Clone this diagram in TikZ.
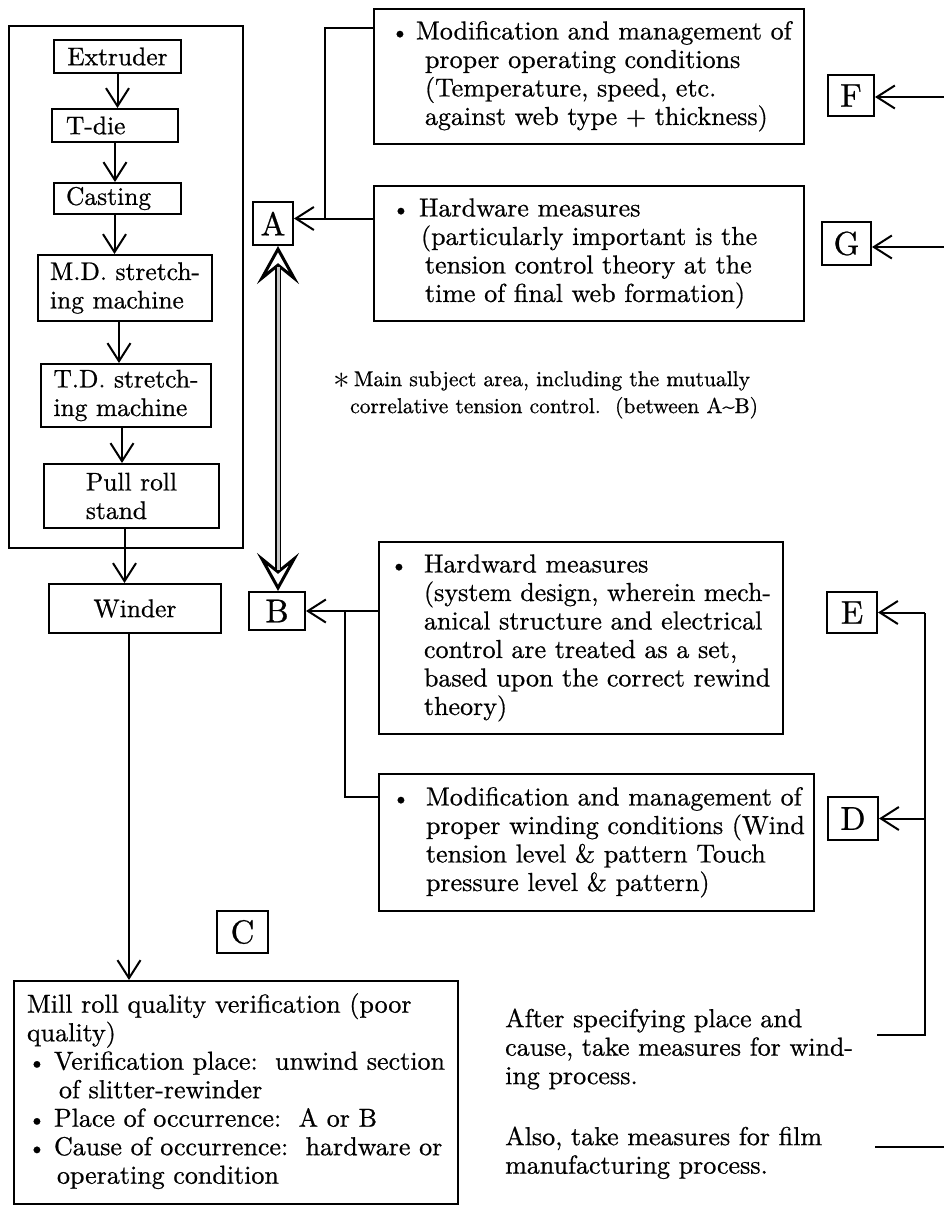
\documentclass[tikz,border=0pt]{standalone}
\usepackage{fontspec}
\setmainfont{lmroman10-regular.otf}[FakeBold=0.7]
\usetikzlibrary{arrows.meta,calc}
\newcommand{\bul}{{\fontsize{23}{23}\selectfont\textbullet}}
\begin{document}
\begin{tikzpicture}[x=1pt,y=-1pt,
  every node/.style={font=\fontsize{26}{28.5}\selectfont, inner sep=0pt},
  frame/.style={draw, line width=2pt},
  proc/.style={frame, anchor=north west, align=left, font=\fontsize{25.5}{28.5}\selectfont},
  tbox/.style={frame, anchor=north west, align=left},
  letter/.style={frame, font=\fontsize{33}{33}\selectfont},
  conn/.style={line width=2pt},
  arr/.style={conn, -{Straight Barb[length=18pt,width=23pt]}},
  free/.style={anchor=north west, align=left},
  abhead/.style={line width=3pt, {Stealth[open,fill=white,length=38pt,width=42pt,inset=17pt]}-{Stealth[open,fill=white,length=38pt,width=42pt,inset=17pt]}},
  abstem/.style={line width=1.6pt, double=gray!45, double distance=3pt},
]
\useasboundingbox (0,0) rectangle (944,1205);

% process group
\node[frame, anchor=north west, minimum width=234, minimum height=522] (group) at (8,25) {};
\node[proc, minimum width=127, minimum height=33] (ext) at (53,39) {Extruder};
\node[proc, text width=126, minimum height=33] (tdie) at (51,108) {\hspace*{14pt}T-die};
\node[proc, text width=127, minimum height=31] (cast) at (53,182) {\hspace*{12pt}Casting};
\node[proc, minimum width=174, minimum height=66] (md) at (37,254) {M.D. stretch-\\ing machine};
\node[proc, minimum width=170, minimum height=63] (td) at (40,363) {T.D. stretch-\\ing machine};
\node[proc, minimum width=175, minimum height=64] (pull) at (43,463) {Pull roll\\stand};
\node[proc, minimum width=172, minimum height=49] (win) at (48,583) {Winder};

% letters
\node[letter, minimum width=40, minimum height=43] (A) at (273,223.5) {A};
\node[letter, minimum width=56, minimum height=38] (B) at (277,611) {B};
\node[letter, minimum width=51, minimum height=42] (C) at (242.5,932) {C};
\node[letter, minimum width=50, minimum height=43] (D) at (853,818.5) {D};
\node[letter, minimum width=50, minimum height=41] (E) at (852,612.5) {E};
\node[letter, minimum width=46, minimum height=41] (F) at (851,95.5) {F};
\node[letter, minimum width=49, minimum height=43] (G) at (846.5,243.5) {G};

% text boxes
\node[tbox, text width=430, minimum height=135] (m1) at (373,8)
 {\hspace*{17pt}\makebox[25pt][l]{\bul}\strut Modification and management of\\
  \hspace*{51pt}proper operating conditions\\
  \hspace*{51pt}(Temperature, speed, etc.\\
  \hspace*{51pt}against web type + thickness)\strut};
\node[tbox, text width=430, minimum height=135] (h1) at (373,185)
 {\hspace*{18pt}\makebox[27pt][l]{\bul}\strut Hardware measures\\
  \hspace*{47pt}(particularly important is the\\
  \hspace*{51pt}tension control theory at the\\
  \hspace*{51pt}time of final web formation)\strut};
\node[tbox, text width=404, minimum height=192] (hw) at (378,541)
 {\hspace*{11pt}\makebox[34pt][l]{\bul}\strut Hardward measures\\
  \hspace*{45pt}(system design, wherein mech-\\
  \hspace*{45pt}anical structure and electrical\\
  \hspace*{45pt}control are treated as a set,\\
  \hspace*{45pt}based upon the correct rewind\\
  \hspace*{45pt}theory)\strut};
\node[tbox, text width=435, minimum height=137] (mw) at (378,773)
 {\hspace*{13pt}\makebox[34pt][l]{\bul}\strut Modification and management of\\
  \hspace*{47pt}proper winding conditions (Wind\\
  \hspace*{47pt}tension level \& pattern Touch\\
  \hspace*{47pt}pressure level \& pattern)\strut};
\node[tbox, text width=444, minimum height=223] (mill) at (13,980)
 {\hspace*{13pt}\strut Mill roll quality verification (poor\\
  \hspace*{13pt}quality)\\
  \hspace*{14pt}\makebox[26pt][l]{\bul}Verification place:\ \ unwind section\\
  \hspace*{45pt}of slitter-rewinder\\
  \hspace*{14pt}\makebox[26pt][l]{\bul}Place of occurrence:\ \ A or B\\
  \hspace*{14pt}\makebox[26pt][l]{\bul}Cause of occurrence:\ \ hardware or\\
  \hspace*{43pt}operating condition\strut};

% free texts
\node[free, font=\fontsize{21.5}{27}\selectfont] (note) at (333,367)
 {\strut\raisebox{-2pt}{\scalebox{1.6}{$\ast$}}\hspace{4pt}Main subject area, including the mutually\\
  \hspace*{17pt}correlative tension control.\ \ (between A\textasciitilde B)};
\node[free] (after) at (505,1007)
 {\strut After specifying place and\\cause, take measures for wind-\\ing process.};
\node[free] (also) at (505,1125)
 {\strut Also, take measures for film\\manufacturing process.};

% process arrows
\coordinate (p1) at (ext.south);
\coordinate (p2) at (tdie.south);
\coordinate (p3) at ([xshift=-3pt]cast.south);
\coordinate (p4) at ([xshift=-6pt]md.south);
\coordinate (p5) at ([xshift=-4pt]td.south);
\coordinate (p6) at ([xshift=-7pt]pull.south);
\coordinate (p7) at ([xshift=-6pt]win.south);
\draw[arr] (p1) -- (p1 |- tdie.north);
\draw[arr] (p2) -- (p2 |- cast.north);
\draw[arr] (p3) -- (p3 |- md.north);
\draw[arr] (p4) -- (p4 |- td.north);
\draw[arr] (p5) -- (p5 |- pull.north);
\draw[arr] (p6) -- (p6 |- win.north);
\draw[arr] (p7) -- (p7 |- mill.north);

% A-B double arrow
\coordinate (ab) at (278,0);
\draw[abhead] (A.south -| ab) -- (B.north -| ab);
\draw[abstem, shorten <=21pt, shorten >=21pt] (A.south -| ab) -- (B.north -| ab);

% connectors to A
\coordinate (jA) at (325,218.5);
\draw[conn] ([yshift=-20pt]m1.north west) -| (jA);
\draw[arr] (h1.west |- jA) -- ([yshift=5pt]A.east);

% connectors to B
\coordinate (jB) at (345,611);
\draw[arr] (hw.west |- B.east) -- (B.east);
\draw[conn] ([yshift=-24pt]mw.north west) -| (jB);

% right side
\coordinate (edge) at (944,0);
\coordinate (jE) at (925,0);
\coordinate (endC) at (877,1035);
\draw[conn] (endC) -- (endC -| jE) -- (E.east -| jE);
\draw[arr] (E.east -| jE) -- (E.east);
\draw[arr] (D.east -| jE) -- (D.east);
\draw[arr] ([yshift=-1.5pt]F.east -| edge) -- ([yshift=-1.5pt]F.east);
\draw[arr] ([yshift=-3.5pt]G.east -| edge) -- ([yshift=-3.5pt]G.east);
\coordinate (alsoL) at (875,1147);
\draw[conn] (alsoL) -- (alsoL -| edge);
\end{tikzpicture}
\end{document}
